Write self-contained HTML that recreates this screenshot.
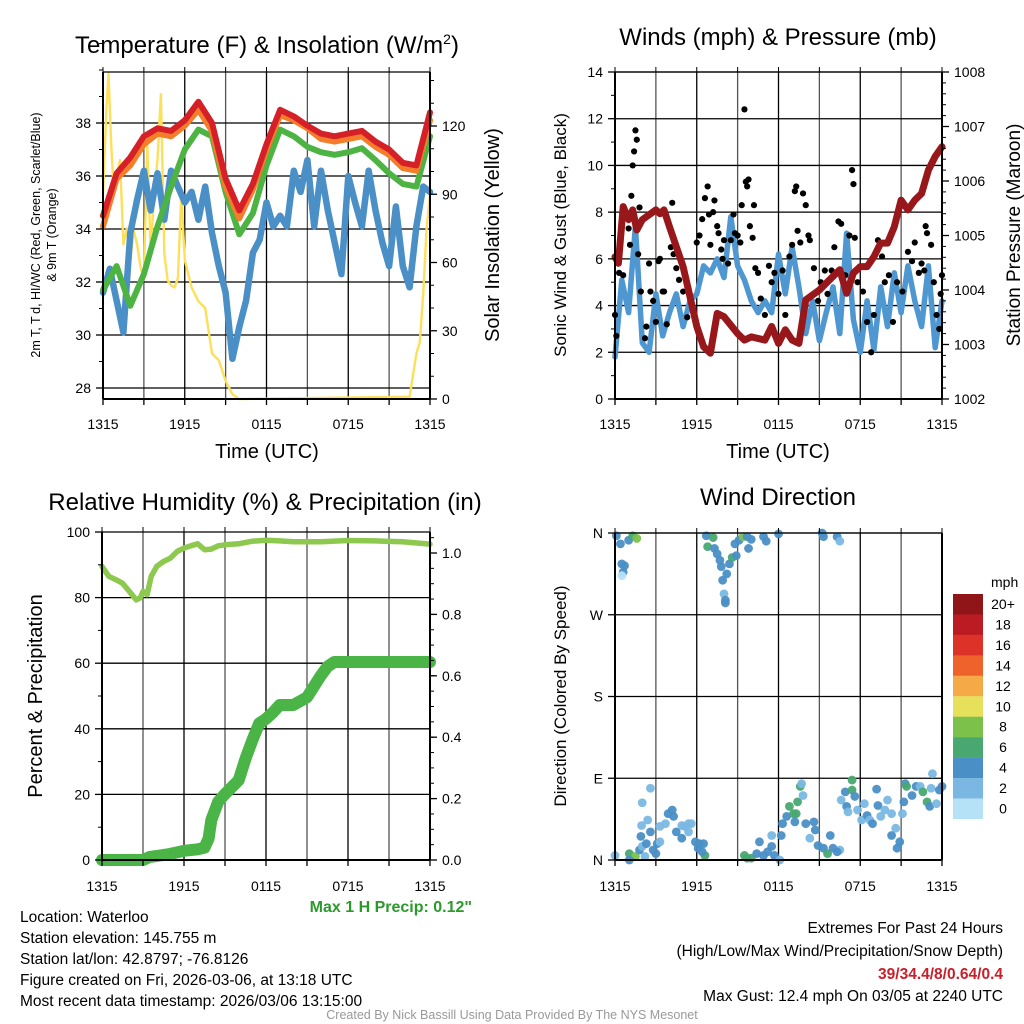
<!DOCTYPE html>
<html><head><meta charset="utf-8">
<style>
html,body{margin:0;padding:0;background:#fff;}
svg{display:block;font-family:"Liberation Sans",Arial,sans-serif;}
</style></head>
<body>
<svg id="c" width="1024" height="1024" viewBox="0 0 1024 1024" xmlns="http://www.w3.org/2000/svg">
<rect width="1024" height="1024" fill="#fff"/>
</svg>
<script>
// ---------- DATA ----------
const hrs = [0,1,2,3,4,5,6,7,8,9,10,11,12,13,14,15,16,17,18,19,20,21,22,23,24];
const tempRed = [34.5,36.1,36.7,37.5,37.8,37.7,38.1,38.8,38.0,35.9,34.7,35.7,37.2,38.5,38.25,37.9,37.6,37.5,37.6,37.7,37.3,37.0,36.5,36.4,38.4];
const tempOrange = [34.1,35.9,36.4,37.2,37.6,37.5,37.9,38.5,37.7,35.6,34.4,35.5,37.0,38.3,38.1,37.8,37.4,37.3,37.4,37.5,37.1,36.8,36.3,36.2,38.1];
const tempGreen = [31.7,32.6,31.1,32.3,34.1,35.6,37.0,37.75,37.5,35.4,33.8,34.6,36.4,37.75,37.5,37.1,36.9,36.8,36.9,37.05,36.6,36.1,35.7,35.6,37.5];
const halfHrs = [0,0.5,1,1.5,2,2.5,3,3.5,4,4.5,5,5.5,6,6.5,7,7.5,8,8.5,9,9.5,10,10.5,11,11.5,12,12.5,13,13.5,14,14.5,15,15.5,16,16.5,17,17.5,18,18.5,19,19.5,20,20.5,21,21.5,22,22.5,23,23.5,24];
const tempBlue = [31.6,32.5,31.3,30.1,33.85,35.1,36.2,34.7,36.1,34.35,36.2,35.6,35.0,35.4,34.35,35.6,33.85,32.6,31.6,29.1,30.3,31.3,33.1,33.6,35.0,34.1,34.5,34.1,36.2,35.4,36.6,34.1,36.2,34.7,33.5,32.3,36.0,35.0,34.1,36.2,34.7,33.5,32.6,34.85,32.6,31.8,34.1,35.6,35.4];
const solT = [0,0.25,0.4,0.6,0.8,1,1.25,1.5,1.75,2,2.25,2.5,2.75,3,3.25,3.5,3.75,4,4.25,4.5,4.75,5,5.25,5.5,5.75,6,6.5,7,7.5,8,8.5,9,9.5,10,22.5,23,23.25,23.5,23.75,24];
const solV = [90,127,143,112,90,98,105,68,75,61,74,68,58,53,112,64,90,105,134,64,52,50,49,53,90,61,49,43,40,20,17,8,2,0,1,20,25,46,75,90];

const presT = [0,0.25,0.6,1,1.3,1.6,2,3,3.3,3.6,4,5,6,6.5,7,7.5,8,9,9.5,10,11,11.5,12,12.5,13,13.5,14,15,16,16.5,17,17.5,18,18.5,19,19.5,20,20.5,21,21.5,22,22.5,23,23.5,24];
const presV = [1004.61,1004.49,1005.53,1005.29,1005.47,1005.1,1005.29,1005.47,1005.4,1005.47,1005.16,1004.43,1003.33,1002.96,1002.84,1003.57,1003.51,1003.2,1003.08,1003.14,1003.08,1003.33,1003.02,1003.27,1003.08,1003.02,1003.82,1004.0,1004.25,1004.37,1003.94,1004.31,1004.43,1004.43,1004.61,1004.86,1004.86,1005.16,1005.65,1005.47,1005.65,1005.77,1006.2,1006.45,1006.63];
const windV = [1.8,5.1,3.7,7.4,2.4,2.0,4.5,2.7,3.7,4.5,3.1,4.2,4.5,5.7,5.4,6.0,5.2,7.8,5.7,5.1,4.2,3.7,4.2,3.7,6.2,4.5,6.5,4.8,2.8,4.2,2.5,3.7,4.8,2.8,7.1,3.4,2.0,4.2,2.1,4.8,3.1,5.4,3.7,5.7,4.2,3.1,5.7,2.2,4.2];
const gustT = [0,0.1,0.3,0.6,1.0,1.1,1.2,1.3,1.4,1.5,1.6,1.8,1.7,1.9,2.2,2.3,2.5,2.6,2.8,3.0,3.2,3.3,3.5,3.6,3.8,4.1,4.2,4.3,4.5,4.7,5.0,5.3,5.5,6.0,6.2,6.4,6.6,6.8,6.9,7.0,7.2,7.3,7.5,7.6,7.8,7.9,8.0,8.3,8.5,8.7,8.8,9.0,9.2,9.3,9.6,9.7,9.8,9.5,9.9,10.1,10.2,10.3,10.5,10.7,11.0,11.3,11.5,11.7,12.0,12.3,12.5,12.8,13.0,13.2,13.3,13.4,13.6,13.8,14.0,14.2,14.3,14.6,14.9,15.1,15.4,15.6,15.9,16.1,16.4,16.6,16.9,17.2,17.4,17.5,17.6,17.8,18.2,18.5,18.8,19.0,19.3,19.6,19.8,20.1,20.4,20.7,21.1,21.5,21.8,22.0,22.3,22.5,22.7,22.8,22.9,23.2,23.4,23.6,23.8,24.0,23.9];
const gustV = [3.6,2.7,5.4,5.3,7.3,6.6,8.7,10.0,10.6,11.5,11.1,8.2,6.2,4.6,2.6,3.1,5.8,4.6,4.2,3.3,5.9,6.0,4.6,4.6,3.2,6.5,8.4,6.2,5.6,5.1,4.6,3.5,4.4,6.7,7.0,7.7,8.6,9.1,7.9,6.6,8.0,8.5,7.4,7.1,6.4,6.0,6.8,5.8,6.8,7.9,7.1,7.0,6.7,8.3,9.3,9.1,9.4,12.4,7.4,6.9,8.3,5.6,5.4,4.3,3.6,5.7,5.0,5.4,4.5,5.5,3.6,6.1,6.6,8.9,9.1,7.2,6.7,8.8,8.3,7.0,6.8,5.6,4.2,5.0,5.5,4.5,5.5,6.5,7.6,7.5,5.3,7.0,9.8,9.2,6.9,5.0,4.6,3.3,2.0,3.6,6.8,6.1,5.0,5.3,3.3,5.0,4.6,6.3,5.9,6.7,5.4,5.8,5.5,7.4,7.1,6.6,5.0,3.6,3.0,5.3,4.5];

const rhT = [0,0.5,1,1.5,2,2.5,2.8,3,3.3,3.6,4,4.5,5,5.5,6,6.5,7,7.5,8,8.5,9,10,11,12,13,14,16,18,20,22,24];
const rhV = [89.5,86.5,85.5,84.4,81.9,79.3,79.9,81.9,80.9,86.5,89.5,91,92,94.1,95.1,95.8,96.4,94.6,94.8,95.8,96.1,96.4,97.2,97.5,97.3,97.0,97.0,97.4,97.3,97.0,96.3];
const prT = [0,3,3.5,4,5,6,7,7.5,7.8,8,8.5,9,10,10.5,11,11.5,12,12.5,13,14,15,16,16.5,17,24];
const prV = [0,0,0.01,0.013,0.02,0.03,0.035,0.04,0.07,0.13,0.19,0.215,0.26,0.33,0.39,0.445,0.46,0.48,0.505,0.505,0.53,0.6,0.63,0.645,0.645];

const dirT = [0.1,0.4,1.0,1.3,1.6,0.5,0.7,0.6,0.5,6.7,7.2,6.8,7.3,7.5,7.7,7.8,7.9,8.0,8.1,8.1,8.2,8.4,8.6,8.9,8.8,9.1,9.4,9.7,10.0,9.8,10.9,11.1,12.0,15.2,15.3,16.3,16.5,
0,1.05,1.5,1.05,1.8,2.2,2.0,2.3,1.9,2.6,2.6,2.0,1.95,2.4,2.8,3.1,3.0,3.3,3.3,3.7,3.9,4.2,4.3,4.5,4.9,5.1,5.4,5.6,4.9,5.4,5.9,6.2,6.5,6.1,6.6,6.4,
9.5,9.7,10.0,10.4,10.6,10.9,11.2,11.5,11.5,11.7,12.1,12.2,12.3,12.6,12.8,13.1,13.3,13.4,13.6,13.7,13.8,13.2,14.0,14.3,14.6,14.7,14.9,15.3,15.6,15.8,16.0,16.5,16.3,
16.6,16.9,17.0,17.1,17.4,17.4,17.6,17.8,18.1,18.3,18.5,18.7,18.9,19.2,19.3,19.5,19.8,20.0,20.3,20.3,20.6,20.7,20.9,21.1,21.2,21.3,21.4,21.8,22.1,22.4,22.6,22.9,23.1,23.2,23.3,23.6,23.8,24.0];
const dirD = [357,348,352,357,354,326,324,317,313,357,355,345,343,337,330,323,308,293,286,283,315,326,333,335,348,352,356,356,353,343,356,351,359,360,356,356,351,
5,7,4,0,11,4,15,18,26,31,79,63,38,44,11,18,7,20,37,40,51,55,48,31,38,37,40,40,24,31,20,18,18,13,5,9,
5,2,2,7,20,5,9,27,15,5,0,27,40,48,59,51,51,64,81,84,71,42,40,24,42,33,16,13,7,27,13,11,9,
66,75,59,53,77,88,70,55,44,62,49,44,40,78,60,48,55,66,51,27,35,13,20,51,64,84,81,71,81,81,75,64,59,79,95,62,77,81];
const dirS = [5,5,5,7,9,5,5,5,1,5,7,7,5,5,5,5,5,3,5,5,5,5,7,5,5,5,9,5,5,5,5,5,5,5,5,5,3,
3,7,9,5,5,3,3,5,5,5,3,3,3,3,5,5,5,3,3,3,5,5,5,5,3,3,3,3,5,3,5,5,5,5,7,5,
7,7,7,5,5,5,5,3,5,5,3,5,5,5,7,7,7,7,7,3,3,5,5,3,5,5,5,5,7,5,5,3,5,
3,5,5,3,7,7,5,3,3,3,5,3,5,5,5,3,3,3,3,5,3,5,5,3,5,5,7,5,5,3,7,7,5,3,3,3,5,5];
const cbLabels = ['20+','18','16','14','12','10','8','6','4','2','0'];
const cbColors = ['#8f1518','#bb1c24','#dc3228','#f0622b','#f6a947','#e6e05a','#7cc24a','#48a870','#4a8fc6','#7ab8e3','#b5e2f7'];

// ---------- HELPERS ----------
const NS='http://www.w3.org/2000/svg';
const svg=document.getElementById('c');
function mk(tag,attrs,parent,txt){const e=document.createElementNS(NS,tag);for(const k in attrs)e.setAttribute(k,attrs[k]);if(txt!==undefined)e.textContent=txt;(parent||svg).appendChild(e);return e;}
function lin(d0,d1,r0,r1){return v=>r0+(v-d0)*(r1-r0)/(d1-d0);}
function pathD(xs,ys,fx,fy){return xs.map((t,i)=>(i?'L':'M')+fx(t).toFixed(1)+','+fy(ys[i]).toFixed(1)).join('');}
function grid(g,x0,x1,y0,y1,yv,fy){
  for(let i=0;i<=8;i++){const x=x0+(x1-x0)*i/8;const l=mk('line',{x1:x,x2:x,y1:y0,y2:y1,stroke:i%2?'#555':'#000','stroke-width':1.3},g);
    
    }
  yv.forEach(v=>{const y=fy(v);const l=mk('line',{x1:x0,x2:x1,y1:y,y2:y,stroke:'#000','stroke-width':1.3},g);
    
    });
}
function frame(g,x0,x1,y0,y1,xlabY){
  const xt=['1315','1915','0115','0715','1315'];
  mk('line',{x1:x0,x2:x0,y1:y0,y2:y1,stroke:'#000','stroke-width':2},g);
  mk('line',{x1:x1,x2:x1,y1:y0,y2:y1,stroke:'#000','stroke-width':2},g);
  mk('line',{x1:x0,x2:x1,y1:y1,y2:y1,stroke:'#000','stroke-width':2},g);
  mk('line',{x1:x0,x2:x1,y1:y0,y2:y0,stroke:'#000','stroke-width':1.3},g);
  for(let i=0;i<=8;i++){const x=x0+(x1-x0)*i/8;mk('line',{x1:x,x2:x,y1:y1,y2:y1+6,stroke:'#000','stroke-width':1.3},g);mk('line',{x1:x,x2:x,y1:y0,y2:y0-5,stroke:'#000','stroke-width':1},g);}
  xt.forEach((s,i)=>{const t=mk('text',{x:x0+(x1-x0)*i/4,y:xlabY,'font-size':14,'text-anchor':'middle'},g,s);
    
    });
}
function yticks(g,x,vals,labels,fy,side,minor){
  vals.forEach((v,i)=>{const y=fy(v);
    mk('line',{x1:x,x2:x+(side<0?-7:7),y1:y,y2:y,stroke:'#000','stroke-width':1.3},g);
    const t=mk('text',{x:x+(side<0?-12:12),y:y+5,'font-size':14,'text-anchor':side<0?'end':'start'},g,labels[i]);
    
    });
  if(minor) minor.forEach(v=>{const y=fy(v);mk('line',{x1:x,x2:x+(side<0?-4:4),y1:y,y2:y,stroke:'#000','stroke-width':1},g);});
}
function title(x,y,s,name,size){const t=mk('text',{x:x,y:y,'font-size':size||24,'text-anchor':'middle'},svg,s);return t;}
function vtitle(x,y,s,name,size){const t=mk('text',{x:x,y:y,'font-size':size,'text-anchor':'middle',transform:`rotate(-90 ${x} ${y})`},svg,s);return t;}
function series(g,d,color,w,name){const p=mk('path',{d:d,fill:'none',stroke:color,'stroke-width':w,'stroke-linejoin':'round','stroke-linecap':'round'},g);return p;}

// ---------- PANEL 1: Temperature ----------
(function(){
  const x0=103,x1=430,y0=72,y1=399;
  const g=mk('g',{});
  const fx=lin(0,24,x0,x1), fy=lin(28,38,388,123), fs=lin(0,120,399,126);
  grid(g,x0,x1,y0,y1,[28,30,32,34,36,38],fy);
  series(g,pathD(solT,solV,fx,fs),'#fde05a',2.4,'solar-insolation-line');
  series(g,pathD(halfHrs,tempBlue,fx,fy),'#4a8fc6',6.5,'wind-chill-line');
  series(g,pathD(hrs,tempGreen,fx,fy),'#4db342',6,'dewpoint-line');
  series(g,pathD(hrs,tempOrange,fx,fy),'#f47d2a',6,'temp-9m-line');
  series(g,pathD(hrs,tempRed,fx,fy),'#d62027',6,'temp-2m-line');
  frame(g,x0,x1,y0,y1,429);
  yticks(g,x0,[28,30,32,34,36,38],['28','30','32','34','36','38'],fy,-1,[29,31,33,35,37,39,40,41]);
  yticks(g,x1,[0,30,60,90,120],['0','30','60','90','120'],fs,1,[10,20,40,50,70,80,100,110,130,140]);
  const t=title(267,53,'Temperature (F) & Insolation (W/m','chart-title-temperature');
  mk('tspan',{'font-size':14,dy:-9},t,'2');mk('tspan',{dy:9},t,')');
  title(267,458,'Time (UTC)','x-axis-title-temperature',20);
  vtitle(40,235,'2m T, T\u2009d, HI/WC (Red, Green, Scarlet/Blue)','y-axis-title-temperature',12.5);
  vtitle(56,235,'& 9m T (Orange)','y-axis-title-temperature-line2',12.5);
  vtitle(499,235,'Solar Insolation (Yellow)','y-axis-title-insolation',20);
})();

// ---------- PANEL 2: Winds ----------
(function(){
  const x0=615,x1=942,y0=72,y1=399;
  const g=mk('g',{});
  const fx=lin(0,24,x0,x1), fy=lin(0,14,399,72), fp=lin(1002,1008,399,72);
  grid(g,x0,x1,y0,y1,[2,4,6,8,10,12,14],fy);
  series(g,pathD(halfHrs,windV,fx,fy),'#4f97d1',5.5,'sonic-wind-line');
  gustT.forEach((t,i)=>{const c=mk('circle',{cx:fx(t),cy:fy(gustV[i]),r:3.1,fill:'#000'},g);
    
    });
  series(g,pathD(presT,presV,fx,fp),'#98171b',7,'pressure-line');
  frame(g,x0,x1,y0,y1,429);
  yticks(g,x0,[0,2,4,6,8,10,12,14],['0','2','4','6','8','10','12','14'],fy,-1,[1,3,5,7,9,11,13]);
  const mn=[];for(let v=1002;v<=1008;v+=0.2)mn.push(v);
  yticks(g,x1,[1002,1003,1004,1005,1006,1007,1008],['1002','1003','1004','1005','1006','1007','1008'],fp,1,mn);
  title(778,45,'Winds (mph) & Pressure (mb)','chart-title-winds');
  title(778,458,'Time (UTC)','x-axis-title-winds',20);
  vtitle(566,235,'Sonic Wind & Gust (Blue, Black)','y-axis-title-wind',17);
  vtitle(1020,235,'Station Pressure (Maroon)','y-axis-title-pressure',19);
})();

// ---------- PANEL 3: RH & Precip ----------
(function(){
  const x0=102,x1=430,y0=532,y1=860;
  const g=mk('g',{});
  const fx=lin(0,24,x0,x1), fy=lin(0,100,860,532), fp=lin(0,1,860,553);
  grid(g,x0,x1,y0,y1,[20,40,60,80],fy);
  series(g,pathD(rhT,rhV,fx,fy),'#8dc94f',5.5,'relative-humidity-line');
  series(g,pathD(prT,prV,fx,fp),'#4ab546',12,'precipitation-line');
  frame(g,x0,x1,y0,y1,891);
  yticks(g,x0,[0,20,40,60,80,100],['0','20','40','60','80','100'],fy,-1,[10,30,50,70,90]);
  const mn=[];for(let v=0;v<=1.06;v+=0.05)mn.push(v);
  yticks(g,x1,[0,0.2,0.4,0.6,0.8,1.0],['0.0','0.2','0.4','0.6','0.8','1.0'],fp,1,mn);
  title(265,510,'Relative Humidity (%) & Precipitation (in)','chart-title-humidity');
  vtitle(42,696,'Percent & Precipitation','y-axis-title-percent',20);
  const m=mk('text',{x:472,y:912,'font-size':16,'font-weight':'bold',fill:'#2a9a2a','text-anchor':'end'},svg,'Max 1 H Precip: 0.12"');
  
})();

// ---------- PANEL 4: Wind Direction ----------
(function(){
  const x0=615,x1=942,y0=533,y1=860;
  const g=mk('g',{});
  const fx=lin(0,24,x0,x1), fy=lin(0,360,860,533);
  grid(g,x0,x1,y0,y1,[90,180,270,360],fy);
  const col=s=>cbColors[10-Math.min(10,Math.floor(s/2))];
  dirT.forEach((t,i)=>{const c=mk('circle',{cx:fx(t),cy:fy(dirD[i]),r:4.4,fill:col(dirS[i]),'fill-opacity':0.95},g);
    
    });
  frame(g,x0,x1,y0,y1,891);
  yticks(g,x0,[0,90,180,270,360],['N','E','S','W','N'],fy,-1,[]);
  title(778,505,'Wind Direction','chart-title-wind-direction');
  vtitle(566,696,'Direction (Colored By Speed)','y-axis-title-direction',17);
  const lg=mk('g',{});
  const u=mk('text',{x:991,y:587,'font-size':14},lg,'mph');
  cbLabels.forEach((s,i)=>{const y=594+i*20.45;
    const r=mk('rect',{x:953,y:y,width:30,height:20.6,fill:cbColors[i]},lg);
    
    
    const t=mk('text',{x:1003,y:y+15,'font-size':14,'text-anchor':'middle'},lg,s);
    
    });
})();

// ---------- FOOTER TEXT ----------
const info=['Location: Waterloo','Station elevation: 145.755 m','Station lat/lon: 42.8797; -76.8126','Figure created on Fri, 2026-03-06, at 13:18 UTC','Most recent data timestamp: 2026/03/06 13:15:00'];
info.forEach((s,i)=>{const t=mk('text',{x:20,y:922+i*21,'font-size':15.5},svg,s);
  
  });
const ex=[['Extremes For Past 24 Hours','#000','normal',933],['(High/Low/Max Wind/Precipitation/Snow Depth)','#000','normal',956],['39/34.4/8/0.64/0.4','#c8202a','bold',979],['Max Gust: 12.4 mph On 03/05 at 2240 UTC','#000','normal',1001]];
ex.forEach(e=>{const t=mk('text',{x:1003,y:e[3],'font-size':15.5,fill:e[1],'font-weight':e[2],'text-anchor':'end'},svg,e[0]);
  
  });
const cr=mk('text',{x:512,y:1019,'font-size':12.5,fill:'#999','text-anchor':'middle'},svg,'Created By Nick Bassill Using Data Provided By The NYS Mesonet');

</script>
</body></html>
